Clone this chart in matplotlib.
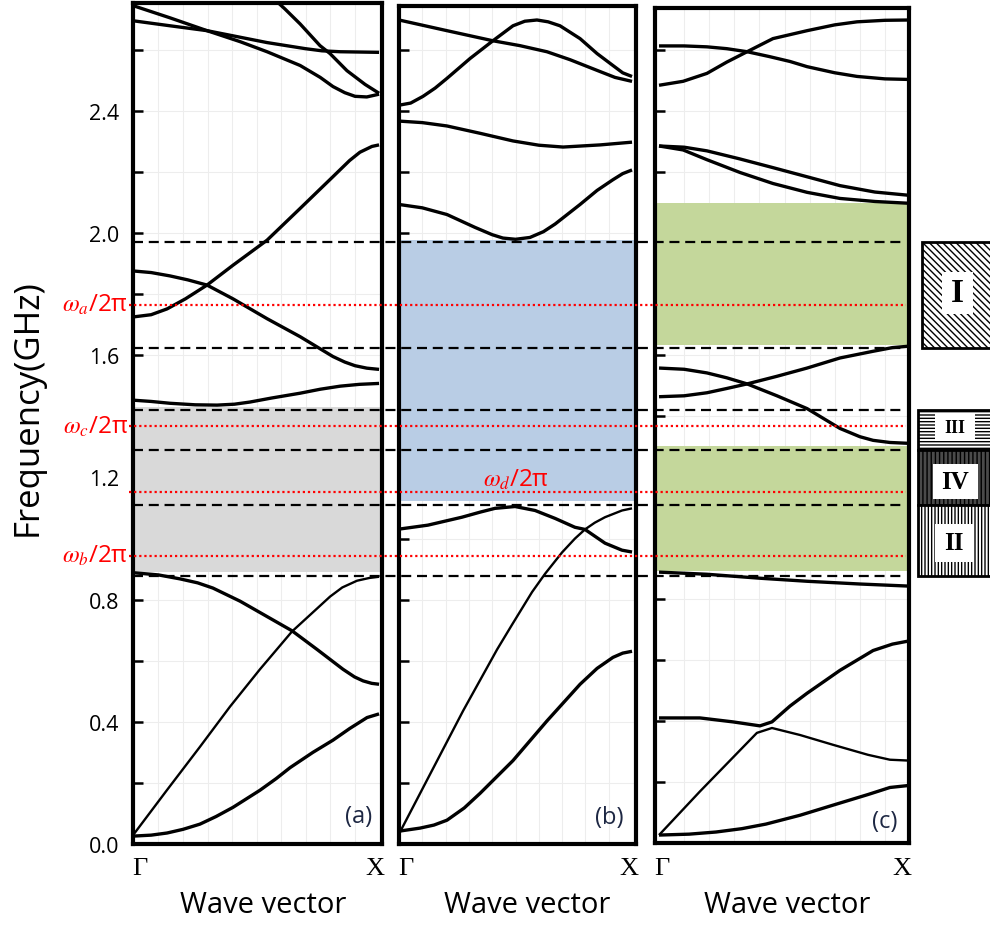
import matplotlib
matplotlib.use("Agg")
import matplotlib.pyplot as plt
from matplotlib.patches import Rectangle

plt.rcParams['mathtext.fontset'] = 'stix'
plt.rcParams['hatch.linewidth'] = 1.0
SANS = ['Open Sans', 'DejaVu Sans']
SERIF = ['Liberation Serif', 'DejaVu Serif']

W, H = 990, 928
Y0, PXG = 851.0, 307.6          # pixel row of 0 GHz, pixels per GHz


def f_of(py):
    return (Y0 - py) / PXG


# ---------------- data ----------------
major_ticks = [0.0, 0.4, 0.8, 1.2, 1.6, 2.0, 2.4]
tick_labels = ['0.0', '0.4', '0.8', '1.2', '1.6', '2.0', '2.4']
minor_ticks = [0.2, 0.6, 1.0, 1.4, 1.8, 2.2, 2.6]

edge_levels = [1.977, 1.632, 1.430, 1.300, 1.122, 0.892]      # black dashed
omega_levels = [1.772, 1.378, 1.163, 0.957]                     # red dotted
omega_names = ['a', 'c', 'd', 'b']

gaps_a = [(0.892, 1.430)]
gaps_b = [(1.122, 1.977)]
gaps_c = [(0.892, 1.300), (1.632, 2.097)]

region_names = ['I', 'III', 'IV', 'II']
region_lo = [1.632, 1.300, 1.122, 0.892]
region_hi = [1.977, 1.430, 1.300, 1.122]

# panel (a) bands: (wave vector fraction, frequency GHz)
a1 = ([0, 0.147, 0.298, 0.433, 0.543, 0.678, 0.760, 0.812, 0.860, 0.902, 0.950, 1.0],
      [2.744, 2.705, 2.663, 2.627, 2.594, 2.549, 2.510, 2.480, 2.460, 2.448, 2.446, 2.455])
a2 = ([0, 0.147, 0.298, 0.543, 0.700, 0.767, 0.841, 1.0],
      [2.695, 2.679, 2.663, 2.624, 2.604, 2.597, 2.594, 2.592])
a3 = ([0.563, 0.616, 0.678, 0.759, 0.800, 0.869, 0.943, 1.0],
      [2.773, 2.734, 2.685, 2.614, 2.588, 2.532, 2.487, 2.458])
a4 = ([0, 0.070, 0.135, 0.210, 0.298, 0.404, 0.543, 0.678, 0.812, 0.880, 0.922, 0.971, 1.0],
      [1.726, 1.733, 1.752, 1.785, 1.830, 1.895, 1.977, 2.081, 2.185, 2.238, 2.265, 2.284, 2.289])
a5 = ([0, 0.070, 0.147, 0.220, 0.298, 0.404, 0.543, 0.678, 0.812, 0.860, 0.902, 0.950, 1.0],
      [1.876, 1.871, 1.860, 1.847, 1.830, 1.785, 1.720, 1.661, 1.596, 1.578, 1.566, 1.558, 1.554])
a6 = ([0, 0.070, 0.147, 0.250, 0.339, 0.410, 0.473, 0.560, 0.678, 0.760, 0.841, 0.920, 1.0],
      [1.453, 1.449, 1.443, 1.438, 1.437, 1.440, 1.447, 1.460, 1.476, 1.489, 1.499, 1.505, 1.508])
a7 = ([0, 0.100, 0.188, 0.260, 0.322, 0.433, 0.527, 0.645, 0.747, 0.853, 0.900, 0.935, 0.970, 1.0],
      [0.888, 0.881, 0.868, 0.855, 0.838, 0.795, 0.752, 0.698, 0.637, 0.572, 0.547, 0.534, 0.526, 0.523])
a8 = ([0, 0.135, 0.269, 0.392, 0.514, 0.645, 0.747, 0.800, 0.850, 0.910, 0.960, 1.0],
      [0.033, 0.177, 0.318, 0.450, 0.572, 0.696, 0.771, 0.810, 0.840, 0.862, 0.871, 0.875])
a9 = ([0, 0.070, 0.135, 0.200, 0.269, 0.335, 0.404, 0.514, 0.580, 0.637, 0.730, 0.812, 0.880, 0.951, 1.0],
      [0.026, 0.029, 0.036, 0.048, 0.065, 0.090, 0.120, 0.176, 0.214, 0.250, 0.300, 0.340, 0.378, 0.414, 0.426])

# panel (b)
b1 = ([0, 0.206, 0.403, 0.519, 0.635, 0.734, 0.850, 0.927, 1.0],
      [2.698, 2.663, 2.630, 2.614, 2.594, 2.568, 2.533, 2.510, 2.497])
b2 = ([0, 0.050, 0.103, 0.155, 0.206, 0.305, 0.403, 0.489, 0.540, 0.592, 0.640, 0.691, 0.777,
       0.850, 0.918, 0.960, 1.0],
      [2.419, 2.426, 2.448, 2.475, 2.507, 2.572, 2.630, 2.679, 2.694, 2.698, 2.692, 2.679, 2.637,
       2.588, 2.549, 2.525, 2.513])
b3 = ([0, 0.100, 0.206, 0.348, 0.489, 0.600, 0.704, 0.863, 1.0],
      [2.367, 2.362, 2.351, 2.327, 2.302, 2.288, 2.282, 2.289, 2.298])
b4 = ([0, 0.100, 0.206, 0.326, 0.400, 0.446, 0.500, 0.562, 0.620, 0.670, 0.777, 0.850, 0.918, 0.960, 1.0],
      [2.094, 2.083, 2.061, 2.019, 1.995, 1.984, 1.980, 1.986, 2.005, 2.030, 2.094, 2.140, 2.175, 2.195, 2.207])
b5 = ([0, 0.124, 0.270, 0.350, 0.412, 0.498, 0.584, 0.670, 0.755, 0.798, 0.840, 0.884, 0.957, 1.0],
      [1.031, 1.044, 1.070, 1.087, 1.099, 1.105, 1.092, 1.066, 1.037, 1.030, 1.008, 0.985, 0.962, 0.956])
b6 = ([0, 0.133, 0.275, 0.421, 0.485, 0.571, 0.627, 0.700, 0.755, 0.798, 0.840, 0.884, 0.957, 1.0],
      [0.033, 0.228, 0.436, 0.637, 0.718, 0.825, 0.885, 0.955, 1.000, 1.030, 1.052, 1.070, 1.092, 1.099])
b7 = ([0, 0.090, 0.150, 0.206, 0.280, 0.348, 0.489, 0.635, 0.777, 0.850, 0.918, 0.960, 1.0],
      [0.042, 0.052, 0.062, 0.078, 0.118, 0.166, 0.273, 0.403, 0.523, 0.575, 0.611, 0.625, 0.631])

# panel (c)
c1 = ([0, 0.096, 0.191, 0.270, 0.351, 0.454, 0.590, 0.700, 0.789, 0.900, 1.0],
      [2.484, 2.497, 2.523, 2.560, 2.594, 2.637, 2.663, 2.682, 2.692, 2.697, 2.698])
c2 = ([0, 0.100, 0.191, 0.270, 0.351, 0.440, 0.522, 0.590, 0.700, 0.789, 0.900, 1.0],
      [2.613, 2.613, 2.610, 2.604, 2.594, 2.578, 2.562, 2.545, 2.525, 2.513, 2.505, 2.503])
c3 = ([0, 0.100, 0.191, 0.320, 0.454, 0.590, 0.721, 0.860, 1.0],
      [2.285, 2.281, 2.269, 2.243, 2.214, 2.184, 2.155, 2.134, 2.123])
c4 = ([0, 0.096, 0.191, 0.323, 0.454, 0.590, 0.721, 0.861, 1.0],
      [2.285, 2.272, 2.240, 2.198, 2.162, 2.133, 2.113, 2.103, 2.097])
c5 = ([0, 0.100, 0.191, 0.270, 0.351, 0.470, 0.590, 0.721, 0.800, 0.853, 0.920, 1.0],
      [1.557, 1.553, 1.541, 1.525, 1.505, 1.466, 1.424, 1.359, 1.332, 1.320, 1.313, 1.310])
c6 = ([0, 0.100, 0.191, 0.270, 0.351, 0.470, 0.590, 0.721, 0.853, 0.930, 1.0],
      [1.463, 1.466, 1.476, 1.490, 1.505, 1.530, 1.557, 1.590, 1.612, 1.624, 1.629])
c7 = ([0, 0.191, 0.402, 0.590, 0.801, 1.0],
      [0.888, 0.881, 0.868, 0.858, 0.849, 0.842])
c8 = ([0, 0.163, 0.295, 0.402, 0.450, 0.522, 0.590, 0.660, 0.721, 0.790, 0.853, 0.930, 1.0],
      [0.410, 0.410, 0.397, 0.384, 0.397, 0.449, 0.491, 0.531, 0.566, 0.600, 0.631, 0.652, 0.663])
c9 = ([0, 0.163, 0.390, 0.450, 0.562, 0.693, 0.833, 0.920, 1.0],
      [0.026, 0.169, 0.361, 0.377, 0.354, 0.322, 0.289, 0.273, 0.270])
c10 = ([0, 0.120, 0.227, 0.330, 0.426, 0.562, 0.693, 0.833, 0.920, 1.0],
       [0.026, 0.029, 0.036, 0.047, 0.062, 0.091, 0.124, 0.159, 0.182, 0.189])

bands_a = [a1, a2, a3, a4, a5, a6, a7, a8, a9]
thin_a = [a8]
bands_b = [b1, b2, b3, b4, b5, b6, b7]
thin_b = [b6]
bands_c = [c1, c2, c3, c4, c5, c6, c7, c8, c9, c10]
thin_c = [c9]

# ---------------- figure ----------------
fig = plt.figure(figsize=(W / 100, H / 100), dpi=100)


def px_axes(x0, x1, ytop, ybot):
    return fig.add_axes([x0 / W, (H - ybot) / H, (x1 - x0) / W, (ybot - ytop) / H])


panels = [
    # x0, x1, ytop, ybot, xlim, bands, thin, gaps, colour
    (133, 382, 4, 845, (-0.004, 1.012), bands_a, thin_a, gaps_a, '#d9d9d9'),
    (399, 636, 7, 845, (0.0, 1.017), bands_b, thin_b, gaps_b, '#b9cde5'),
    (655, 909, 9, 844, (-0.016, 0.996), bands_c, thin_c, gaps_c, '#c4d79b'),
]

for i, (x0, x1, yt, yb, xl, bands, thin, gaps, col) in enumerate(panels):
    ax = px_axes(x0, x1, yt, yb)
    ax.set_xlim(*xl)
    ax.set_ylim(f_of(yb), f_of(yt))
    ax.set_axisbelow(True)
    for lo, hi in gaps:
        ax.axhspan(lo, hi, color=col, lw=0, zorder=1)
    for bd in bands:
        lw = 1.7 if any(bd is t for t in thin) else 2.4
        ax.plot(bd[0], bd[1], color='black', lw=lw, zorder=3,
                solid_joinstyle='round', solid_capstyle='butt')
    for s in ax.spines.values():
        s.set_linewidth(3.0)
        s.set_color('black')
        s.set_zorder(5)
    ax.set_yticks(major_ticks)
    ax.set_yticks(minor_ticks, minor=True)
    ax.set_xticks([0.1 * j for j in range(1, 10)])
    ax.tick_params(axis='x', length=0, labelbottom=False)
    ax.tick_params(axis='y', which='both', direction='in', length=7, width=1.8,
                   color='black', right=False, pad=10)
    if i == 0:
        ax.set_yticklabels(tick_labels, fontsize=15.5, family=SANS)
    else:
        ax.set_yticklabels([])
    ax.grid(True, which='both', color='#ededed', lw=0.8)

# overlay for the level lines and annotations (x in pixels, y in GHz)
ov = px_axes(0, W, 4, 845)
ov.set_xlim(0, W)
ov.set_ylim(f_of(845), f_of(4))
ov.set_axis_off()
ov.patch.set_alpha(0)
for lv in edge_levels:
    ov.hlines(lv, 133, 906, colors='black', lw=1.6, linestyles=(0, (4.5, 2.6)), zorder=6)
for lv in omega_levels:
    ov.hlines(lv, 129, 906, colors='#ff0000', lw=1.6, linestyles=(0, (1.0, 1.3)), zorder=6)

for name, lv in zip(omega_names, omega_levels):
    if name == 'd':
        ov.text(516, lv + 0.042, r'$\omega_d$/2π', color='#ff0000', fontsize=17.5,
                ha='center', va='center', family=SANS)
    else:
        ov.text(128, lv, r'$\omega_%s$/2π' % name, color='#ff0000', fontsize=17.5,
                ha='right', va='center', family=SANS)

# Gamma / X labels, panel tags, axis titles
for x0, x1, tag, ty, cx in [(133, 382, '(a)', 817, 263), (399, 636, '(b)', 818, 527),
                            (655, 909, '(c)', 822, 787)]:
    ov.text(x0 - 1, f_of(869), 'Γ', fontsize=19, family=SERIF, ha='left', va='center')
    ov.text(x1 + 2, f_of(869), 'X', fontsize=19, family=SERIF, ha='right', va='center')
    ov.text(x1 - 10 if tag == '(a)' else x1 - 12, f_of(ty), tag, fontsize=17, family=SANS,
            ha='right', va='center', color='#1d2743', zorder=7)
    ov.text(cx, f_of(906), 'Wave vector', fontsize=21, family=SANS, ha='center', va='center')

ov.text(28, f_of(408), 'Frequency(GHz)', fontsize=25, family=SANS, rotation=90,
        ha='center', va='center')

# right side hatched region key
rk = px_axes(915, W, 4, 845)
rk.set_xlim(915, W)
rk.set_ylim(f_of(845), f_of(4))
rk.set_axis_off()
rk.patch.set_alpha(0)
styles = {
    'I': dict(x=922, fc='white', hatch='\\\\\\\\\\'),
    'III': dict(x=918, fc='white', hatch='-----'),
    'IV': dict(x=918, fc='#4a4a4a', hatch='||||'),
    'II': dict(x=918, fc='white', hatch='|||||'),
}
label_boxes = {
    'I': (942, 973, 273, 315, 24),
    'III': (935, 975, 415, 442, 13),
    'IV': (933, 978, 465, 500, 18),
    'II': (935, 973, 525, 563, 18),
}
for name, lo, hi in zip(region_names, region_lo, region_hi):
    st = styles[name]
    rk.add_patch(Rectangle((st['x'], lo), 90, hi - lo, facecolor=st['fc'],
                           edgecolor='black', hatch=st['hatch'], lw=2.0))
    bx0, bx1, by0, by1, fs = label_boxes[name]
    rk.add_patch(Rectangle((bx0, f_of(by1)), bx1 - bx0, f_of(by0) - f_of(by1),
                           facecolor='white', edgecolor='none', zorder=4))
    rk.text((bx0 + bx1) / 2, (f_of(by0) + f_of(by1)) / 2, name, fontsize=fs,
            family=SERIF, weight='bold', ha='center', va='center', zorder=5)

fig.savefig('out.png', dpi=100)
